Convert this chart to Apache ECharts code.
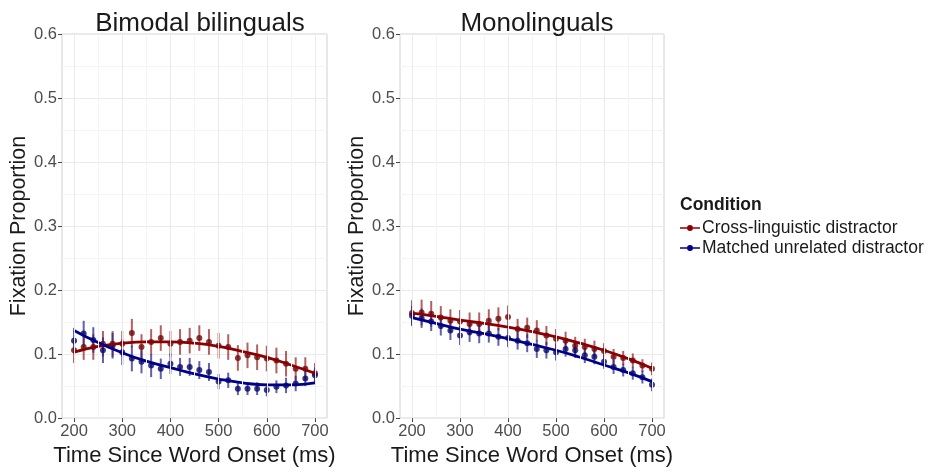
<!DOCTYPE html>
<html>
<head>
<meta charset="utf-8">
<script src="https://cdn.jsdelivr.net/npm/echarts@6/dist/echarts.min.js"></script>
<style>
html,body{margin:0;padding:0;background:#fff;}
#chart{width:932px;height:472px;}
</style>
</head>
<body>
<div id="chart"></div>
<script>
// ---- data ----
const times = [200,220,240,260,280,300,320,340,360,380,400,420,440,460,480,500,520,540,560,580,600,620,640,660,680,700];
const xTicks = [200,300,400,500,600,700];
const xGridLines = [200,250,300,350,400,450,500,550,600,650,700];

// Bimodal bilinguals
const biCross    = [0.106,0.111,0.111,0.116,0.116,0.116,0.133,0.111,0.119,0.125,0.116,0.119,0.121,0.125,0.119,0.113,0.111,0.094,0.098,0.095,0.093,0.090,0.085,0.077,0.077,0.070];
const biCrossErr = [0.020,0.020,0.020,0.020,0.020,0.020,0.022,0.020,0.020,0.020,0.020,0.020,0.020,0.020,0.020,0.020,0.020,0.020,0.020,0.020,0.020,0.020,0.020,0.018,0.018,0.016];
const biMatch    = [0.121,0.132,0.122,0.106,0.113,0.103,0.093,0.088,0.082,0.077,0.085,0.080,0.080,0.075,0.072,0.057,0.059,0.046,0.046,0.046,0.044,0.049,0.051,0.054,0.062,0.067];
const biMatchErr = [0.020,0.020,0.020,0.020,0.020,0.020,0.020,0.018,0.018,0.016,0.016,0.014,0.014,0.014,0.014,0.012,0.012,0.010,0.010,0.010,0.010,0.010,0.012,0.012,0.012,0.012];
const fitTimes   = [200,250,300,350,400,450,500,550,600,650,700];
const biCrossFit = [0.103,0.112,0.117,0.119,0.119,0.117,0.112,0.104,0.095,0.083,0.070];
const biMatchFit = [0.137,0.118,0.102,0.089,0.079,0.069,0.061,0.055,0.052,0.052,0.055];

// Monolinguals
const monoCross    = [0.164,0.165,0.163,0.157,0.152,0.151,0.147,0.147,0.152,0.155,0.158,0.139,0.141,0.137,0.129,0.124,0.121,0.113,0.111,0.108,0.105,0.096,0.094,0.090,0.082,0.077];
const monoCrossErr = [0.020,0.020,0.020,0.018,0.018,0.018,0.018,0.018,0.018,0.018,0.018,0.016,0.016,0.016,0.015,0.015,0.014,0.014,0.013,0.013,0.012,0.012,0.011,0.011,0.010,0.010];
const monoMatch    = [0.160,0.156,0.151,0.144,0.137,0.129,0.134,0.132,0.132,0.127,0.125,0.121,0.117,0.108,0.106,0.103,0.108,0.106,0.098,0.096,0.088,0.080,0.075,0.070,0.064,0.052];
const monoMatchErr = [0.015,0.015,0.015,0.015,0.015,0.015,0.015,0.015,0.014,0.014,0.014,0.014,0.014,0.014,0.013,0.013,0.012,0.012,0.012,0.012,0.011,0.011,0.010,0.010,0.010,0.010];
const monoCrossFit = [0.164,0.159,0.153,0.148,0.142,0.135,0.127,0.117,0.106,0.093,0.078];
const monoMatchFit = [0.157,0.148,0.139,0.132,0.124,0.115,0.106,0.095,0.083,0.071,0.057];

const panelTitles = ['Bimodal bilinguals','Monolinguals'];
const condNames = ['Cross-linguistic distractor','Matched unrelated distractor'];

// ---- styles ----
const RED = '#8b0000', BLUE = '#00008b';
const RED_BAR = 'rgba(150,35,35,0.72)', BLUE_BAR = 'rgba(35,35,140,0.72)';
const FONT = '"Liberation Sans", Arial, sans-serif';

const chart = echarts.init(document.getElementById('chart'));

const grids = [
  {left: 62, top: 34, width: 265, height: 388, show: true, borderColor: '#d0d0d0', borderWidth: 1, backgroundColor: '#fff'},
  {left: 400, top: 34, width: 264, height: 388, show: true, borderColor: '#d0d0d0', borderWidth: 1, backgroundColor: '#fff'}
];

function xAxisFor(i){
  return {
    type: 'value', gridIndex: i, min: 175, max: 725,
    name: 'Time Since Word Onset (ms)', nameLocation: 'middle', nameGap: 24,
    nameTextStyle: {fontFamily: FONT, fontSize: 22, color: '#1a1a1a'},
    axisLine: {show: false},
    axisTick: {show: true, length: 4, lineStyle: {color: '#444'}, customValues: xTicks},
    axisLabel: {customValues: xTicks, fontFamily: FONT, fontSize: 16.5, color: '#4d4d4d', margin: 5},
    splitLine: {show: false}
  };
}
function yAxisFor(i){
  return {
    type: 'value', gridIndex: i, min: 0, max: 0.6, interval: 0.1,
    name: 'Fixation Proportion', nameLocation: 'middle', nameGap: 31,
    nameTextStyle: {fontFamily: FONT, fontSize: 21.5, color: '#1a1a1a'},
    axisLine: {show: false},
    axisTick: {show: true, length: 4, lineStyle: {color: '#444'}},
    axisLabel: {fontFamily: FONT, fontSize: 16.5, color: '#4d4d4d', margin: 5, formatter: v => v.toFixed(1)},
    splitLine: {show: true, lineStyle: {color: '#ebebeb', width: 1}},
    minorTick: {show: false, splitNumber: 2},
    minorSplitLine: {show: true, lineStyle: {color: '#f4f4f4', width: 1}}
  };
}

function errRender(color){
  return function(params, api){
    const x = api.value(0), y = api.value(1), e = api.value(2);
    const p1 = api.coord([x, y - e]);
    const p2 = api.coord([x, y + e]);
    return {type: 'line', shape: {x1: p1[0], y1: p1[1], x2: p2[0], y2: p2[1]},
            style: {stroke: color, lineWidth: 2}};
  };
}

function panelSeries(i, cross, crossErr, match, matchErr, crossFit, matchFit){
  const mk = (vals, errs) => times.map((t, k) => [t, vals[k], errs[k]]);
  const pts = (vals) => times.map((t, k) => [t, vals[k]]);
  const fit = (vals) => fitTimes.map((t, k) => [t, vals[k]]);
  return [
    {type: 'line', xAxisIndex: i, yAxisIndex: i, data: [], silent: true, z: 0,
     markLine: {silent: true, symbol: 'none', label: {show: false},
       lineStyle: {type: 'solid', width: 1, color: '#efefef'},
       data: xGridLines.map(v => ({xAxis: v, lineStyle: {color: (v % 100 === 0) ? '#ebebeb' : '#f4f4f4', type: 'solid', width: 1}}))}},
    {type: 'custom', name: condNames[0], xAxisIndex: i, yAxisIndex: i, renderItem: errRender(RED_BAR), data: mk(cross, crossErr), z: 2, itemStyle: {color: RED}},
    {type: 'custom', name: condNames[1], xAxisIndex: i, yAxisIndex: i, renderItem: errRender(BLUE_BAR), data: mk(match, matchErr), z: 2, itemStyle: {color: BLUE}},
    {type: 'scatter', name: condNames[0], xAxisIndex: i, yAxisIndex: i, data: pts(cross), symbolSize: 6, itemStyle: {color: '#700808'}, z: 3},
    {type: 'scatter', name: condNames[1], xAxisIndex: i, yAxisIndex: i, data: pts(match), symbolSize: 6, itemStyle: {color: '#0a0a66'}, z: 3},
    {type: 'line', name: condNames[0], xAxisIndex: i, yAxisIndex: i, data: fit(crossFit), smooth: true, showSymbol: false, symbol: 'none',
     lineStyle: {color: RED, width: 2.8}, itemStyle: {color: RED}, z: 4},
    {type: 'line', name: condNames[1], xAxisIndex: i, yAxisIndex: i, data: fit(matchFit), smooth: true, showSymbol: false, symbol: 'none',
     lineStyle: {color: BLUE, width: 2.8}, itemStyle: {color: BLUE}, z: 4}
  ];
}

const ICON = 'path://M0,2.2L7,2.2L7,3.8L0,3.8Z M13,2.2L20,2.2L20,3.8L13,3.8Z M13,3A3,3 0 1 1 7,3A3,3 0 1 1 13,3Z';

chart.setOption({
  animation: false,
  backgroundColor: '#ffffff',
  title: [
    {text: panelTitles[0], left: 195, top: 6, textAlign: 'center', textStyle: {fontFamily: FONT, fontSize: 26, fontWeight: 'normal', color: '#1a1a1a'}},
    {text: panelTitles[1], left: 532, top: 6, textAlign: 'center', textStyle: {fontFamily: FONT, fontSize: 26, fontWeight: 'normal', color: '#1a1a1a'}},
    {text: 'Condition', left: 680, top: 196, padding: 0, textStyle: {fontFamily: FONT, fontSize: 17.5, fontWeight: 'bold', color: '#1a1a1a'}}
  ],
  legend: {
    left: 680, top: 219, padding: 0, orient: 'vertical', itemWidth: 20, itemHeight: 6, itemGap: 2,
    textStyle: {fontFamily: FONT, fontSize: 17.5, color: '#1a1a1a', padding: [0,0,0,-3]},
    data: [
      {name: condNames[0], icon: ICON, itemStyle: {color: RED}},
      {name: condNames[1], icon: ICON, itemStyle: {color: BLUE}}
    ],
    selectedMode: false
  },
  grid: grids,
  xAxis: [xAxisFor(0), xAxisFor(1)],
  yAxis: [yAxisFor(0), yAxisFor(1)],
  series: [].concat(
    panelSeries(0, biCross, biCrossErr, biMatch, biMatchErr, biCrossFit, biMatchFit),
    panelSeries(1, monoCross, monoCrossErr, monoMatch, monoMatchErr, monoCrossFit, monoMatchFit)
  )
});
</script>
</body>
</html>
